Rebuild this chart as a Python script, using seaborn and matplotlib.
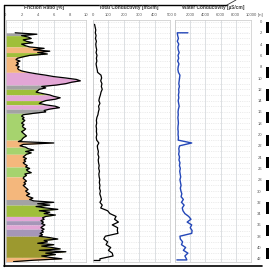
"""
CPT-style log: friction ratio with soil-type fill, total and water conductivity
against depth, with an alternating depth scale on the right.
"""

import numpy as np
import matplotlib
matplotlib.use("Agg")
import matplotlib.pyplot as plt
import seaborn as sns

# ---------------------------------------------------------------------------
# Data
# ---------------------------------------------------------------------------
# friction ratio [%], sampled every 0.25 m from 2.0 to 42.5 m
fr_depth = np.arange(2.0, 42.51, 0.25)
fr_values = [
    1.2, 3.9, 2.0, 2.8, 3.2, 2.2, 2.6, 3.4, 2.0, 2.4, 3.0,
    4.8, 3.5, 5.5, 4.0, 5.2, 3.0, 2.2,
    1.5, 1.3, 1.8, 1.4, 1.6, 1.3, 1.7, 1.5, 1.6, 2.0, 2.8,
    3.8, 5.0, 6.0, 7.5, 8.8, 9.3, 8.2, 7.5, 6.3,
    4.5, 5.0, 4.2,
    4.0, 3.8, 4.6, 5.5,
    6.0, 6.8, 6.2, 5.0,
    4.5, 4.2, 5.0,
    6.2, 6.7, 5.5,
    4.8, 5.0, 3.5,
    2.2, 2.0, 2.3, 2.1, 2.4, 2.2, 2.0, 2.3, 2.1, 2.2, 2.5, 2.3, 2.0, 2.2, 2.4, 2.6, 2.3, 2.1, 2.0,
    1.6, 6.0, 2.2, 1.8, 2.5,
    2.8, 3.5, 2.5, 3.2, 2.6,
    2.4, 2.2, 2.6, 2.3, 2.5, 2.2, 2.4, 2.7, 2.5,
    3.0, 2.6, 2.8, 3.2, 2.4, 2.6, 2.3,
    2.2, 2.4, 2.6, 2.3, 2.5, 2.2, 2.4, 2.6, 2.8, 2.5, 2.7, 3.0, 2.6, 2.9, 3.4, 3.0,
    3.5, 6.0, 4.0, 5.5,
    3.8, 5.0, 6.5, 4.2, 5.5, 4.8, 6.2, 5.0,
    4.6, 4.8, 4.4,
    4.7, 4.5, 4.9,
    4.6, 4.4, 4.8,
    4.5, 4.7, 4.3, 4.6, 4.2,
    5.5, 6.5, 4.8, 5.2, 4.0, 6.0, 4.5, 5.8, 6.8, 4.2, 7.5, 5.0, 6.2, 4.5, 5.5,
    7.0, 3.5, 1.0,
]

# soil type layers (top, bottom, colour)
GREY = "#a3a3a3"
GREEN = "#a6d36e"
YGREEN = "#9fbf3a"
PEACH = "#f4b77c"
PINK = "#e3a6d6"
PURPLE = "#a596b8"
OLIVE = "#9c992f"
layer_top = [2.0, 2.5, 4.5, 5.5, 6.25, 9.0, 11.25, 12.0, 13.0, 14.0, 14.75, 15.5, 16.25,
             21.0, 22.25, 23.5, 25.75, 27.5, 31.5, 32.5, 34.5, 35.25, 36.0, 36.75, 38.0, 41.75]
layer_bottom = [2.5, 4.5, 5.5, 6.25, 9.0, 11.25, 12.0, 13.0, 14.0, 14.75, 15.5, 16.25, 21.0,
                22.25, 23.5, 25.75, 27.5, 31.5, 32.5, 34.5, 35.25, 36.0, 36.75, 38.0, 41.75, 42.5]
layer_color = [GREY, YGREEN, PEACH, YGREEN, PEACH, PINK, GREY, YGREEN, PINK, YGREEN, PINK, GREY,
               GREEN, PEACH, GREEN, PEACH, GREEN, PEACH, GREY, YGREEN, PINK, PURPLE, PINK,
               PURPLE, OLIVE, PEACH]

# total conductivity [mS/m], every 0.5 m from 0.5 to 42.0 m, then the closing segment
tc_depth = np.r_[np.arange(0.5, 42.01, 0.5), 42.3, 42.3]
tc_values = [
    10, 14, 18, 15, 20, 16, 22, 18, 20,
    24, 20, 26, 22, 25, 20, 23, 27, 30,
    52, 56, 50, 58, 54, 60, 52, 48,
    42, 38, 45, 36, 40, 35, 32,
    25, 22, 24, 20, 23, 22, 25, 21, 24, 38, 28,
    30, 35, 32, 38, 34, 36, 40, 37, 42, 38, 40, 44, 41, 45, 42, 48, 44, 50,
    55, 45, 60, 50,
    95, 110,
    150, 140, 165, 125, 160, 158, 162,
    80, 70, 95, 85, 115, 100, 125, 130, 45,
    45, 0,
]

# water conductivity [uS/cm], top segment, every 0.5 m from 2.5 to 42.0 m, closing segment
wc_depth = np.r_[2.0, 2.0, np.arange(2.5, 42.01, 0.5), 42.2, 42.2]
wc_values = [
    1700, 300,
    350, 450, 300, 500, 380, 420, 550, 400, 480, 350, 520, 420, 380, 450,
    650, 600, 550, 500, 580, 480, 520, 450, 500, 420, 480, 550, 450, 400, 430, 380,
    420, 450, 400, 380, 420, 400, 450, 420,
    2200, 600,
    500, 550, 480, 600, 520, 650, 580, 700, 620, 680, 750, 650, 720, 800, 700, 780,
    900, 800, 1100, 850, 1200, 950, 1050, 1300,
    1800, 2100, 1600, 2200, 2000, 2250, 2200,
    650, 700, 1000, 850, 1400, 1100, 1700, 1300, 1500,
    1550, 250,
]

depth_ticks = list(range(0, 43, 2))

# ---------------------------------------------------------------------------
# Figure layout (pixel based)
# ---------------------------------------------------------------------------
W, H = 269, 272
sns.set_style("white")
plt.rcParams["font.family"] = ["Liberation Sans", "DejaVu Sans"]

fig = plt.figure(figsize=(W / 100, H / 100), dpi=100)

Y_TOP, Y_BOT = 20.0, 262.0
D_TOP = (Y_TOP - 21.5) / 5.65
D_BOT = (Y_BOT - 21.5) / 5.65
TICK_FS = 3.0


def px_axes(x0, x1):
    return fig.add_axes([x0 / W, 1 - Y_BOT / H, (x1 - x0) / W, (Y_BOT - Y_TOP) / H])


def style_panel(ax, xmax, xticks, title, xcenter):
    ax.set_xlim(0, xmax)
    ax.set_ylim(D_BOT, D_TOP)
    ax.xaxis.tick_top()
    ax.set_xticks(xticks)
    ax.set_xticklabels([str(t) for t in xticks])
    ax.tick_params(axis="x", labelsize=TICK_FS, length=0, pad=2.5, colors="#555555")
    ax.set_yticks(range(0, 43, 1))
    ax.tick_params(axis="y", left=False, labelleft=False)
    ax.grid(axis="x", color="#cfd3d8", lw=0.5)
    ax.grid(axis="y", color="#dcdcdc", lw=0.4, ls=(0, (2, 2)))
    ax.set_axisbelow(True)
    for s in ax.spines.values():
        s.set_color("#c8c8c8")
        s.set_linewidth(0.5)
    ax.set_xlabel("")
    ax.set_ylabel("")
    fig.text(xcenter / W, 1 - 7 / H, title, ha="center", va="center",
             fontsize=3.4, fontweight="bold", color="#3a3a3a")


# --- Friction ratio with soil type fill ------------------------------------
ax1 = px_axes(5.5, 86)
fr = np.array(fr_values)
for top, bot, c in zip(layer_top, layer_bottom, layer_color):
    mask = (fr_depth >= top - 1e-9) & (fr_depth <= bot + 1e-9)
    ax1.fill_betweenx(fr_depth, 0, fr, where=mask, color=c, lw=0)
sns.lineplot(x=fr_values, y=fr_depth, sort=False, estimator=None, color="black",
             lw=0.9, ax=ax1)
style_panel(ax1, 10, [0, 2, 4, 6, 8, 10], "Friction Ratio [%]", 44)

# --- Total conductivity -------------------------------------------------------
ax2 = px_axes(93, 170)
sns.lineplot(x=tc_values, y=tc_depth, sort=False, estimator=None, color="black",
             lw=0.9, ax=ax2)
style_panel(ax2, 500, [0, 100, 200, 300, 400, 500], "Total Conductivity [mS/m]", 129)

# --- Water conductivity -------------------------------------------------------
ax3 = px_axes(175, 251)
sns.lineplot(x=wc_values, y=wc_depth, sort=False, estimator=None, color="#2447b8",
             lw=1.0, ax=ax3)
style_panel(ax3, 10000, [0, 2000, 4000, 6000, 8000, 10000],
            "Water Conductivity [\u00b5S/cm]", 213)

# --- Depth scale --------------------------------------------------------------
axd = px_axes(266, 270)
axd.set_xlim(0, 1)
axd.set_ylim(D_BOT, D_TOP)
for i, d in enumerate(depth_ticks):
    axd.axhspan(d, d + 2, color="black" if i % 2 == 0 else "white", lw=0)
axd.set_yticks(depth_ticks)
axd.set_yticklabels([str(d) for d in depth_ticks])
axd.tick_params(axis="y", labelsize=TICK_FS, length=0, pad=3, colors="#555555")
axd.set_xticks([])
for s in axd.spines.values():
    s.set_visible(False)
fig.text(258 / W, 1 - 15 / H, "[m]", ha="left", va="center", fontsize=TICK_FS, color="#555555")

# --- outer frame remnants -----------------------------------------------------
frame = fig.add_axes([0, 0, 1, 1], facecolor="none")
frame.set_xlim(0, W)
frame.set_ylim(H, 0)
frame.axis("off")
frame.plot([3.5, 227], [5, 5], color="black", lw=1.0)
frame.plot([227, 236], [5, 0], color="#333333", lw=0.6)
frame.plot([3.5, 3.5], [5, 265.5], color="black", lw=1.0)
frame.plot([3.5, 262], [265.5, 265.5], color="black", lw=1.2)

fig.savefig("out.png", dpi=100)
plt.close(fig)
